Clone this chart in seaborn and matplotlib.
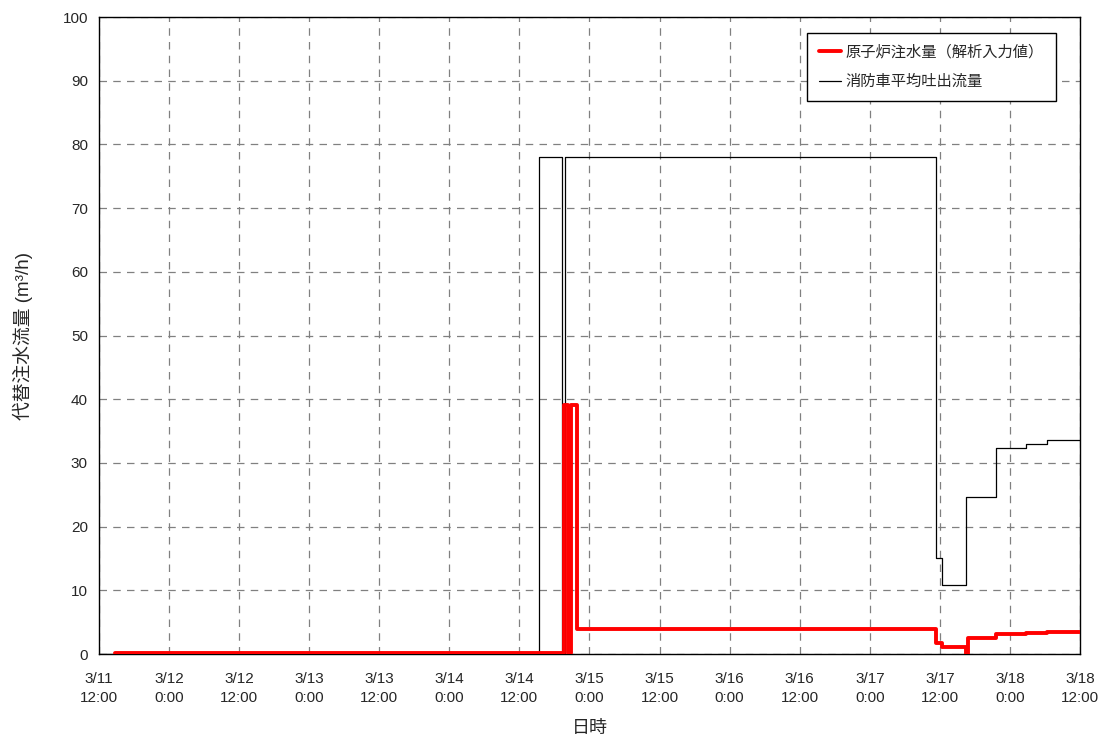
import pandas as pd
import matplotlib
matplotlib.use('Agg')
import matplotlib.pyplot as plt
import seaborn as sns

sns.set_theme(style="white")
plt.rcParams['font.family'] = ['Liberation Sans', 'Noto Sans CJK JP', 'DejaVu Sans']

# 原子炉注水量 (解析入力値)
t_ro = ['2011-03-11 14:46', '2011-03-14 19:38', '2011-03-14 20:14', '2011-03-14 20:50',
        '2011-03-14 21:56', '2011-03-17 11:20', '2011-03-17 12:19', '2011-03-17 16:25',
        '2011-03-17 16:46', '2011-03-17 21:37', '2011-03-18 02:42', '2011-03-18 06:24',
        '2011-03-18 12:00']
v_ro = [0.1, 39.1, 0.1, 39.1, 3.9, 1.7, 1.1, 0.0, 2.5, 3.2, 3.3, 3.4, 3.4]

# 消防車平均吐出流量
t_fire = ['2011-03-11 12:00', '2011-03-14 15:24', '2011-03-14 19:14', '2011-03-14 19:48',
          '2011-03-17 11:20', '2011-03-17 12:19', '2011-03-17 16:25', '2011-03-17 21:37',
          '2011-03-18 02:42', '2011-03-18 06:24', '2011-03-18 12:00']
v_fire = [0.0, 78.0, 0.0, 78.0, 15.1, 10.9, 24.6, 32.4, 33.0, 33.6, 33.6]

lbl_ro = '原子炉注水量（解析入力値）'
lbl_fire = '消防車平均吐出流量'

ticks = pd.date_range('2011-03-11 12:00', '2011-03-18 12:00', freq='12h')
tick_labels = [f"{t.month}/{t.day}\n{t.hour}:{t.minute:02d}" for t in ticks]

d_ro = pd.DataFrame({'t': pd.to_datetime(t_ro), 'v': v_ro})
d_fire = pd.DataFrame({'t': pd.to_datetime(t_fire), 'v': v_fire})

fig = plt.figure(figsize=(11.06, 7.4), dpi=100)
ax = fig.add_axes([0.0895, 0.1162, 0.887, 0.8608])

sns.lineplot(data=d_fire, x='t', y='v', ax=ax, color='black', linewidth=0.9,
             drawstyle='steps-post', estimator=None, sort=False, label=lbl_fire, zorder=3)
sns.lineplot(data=d_ro, x='t', y='v', ax=ax, color='#ff0000', linewidth=2.8,
             drawstyle='steps-post', estimator=None, sort=False, label=lbl_ro, zorder=4)

ax.set_xlim(ticks[0], ticks[-1])
ax.set_ylim(0, 100)
ax.set_xticks(ticks)
ax.set_xticklabels(tick_labels, linespacing=1.45)
ax.set_yticks(range(0, 101, 10))
ax.tick_params(labelsize=11, length=0)
ax.tick_params(axis='x', pad=13)
ax.tick_params(axis='y', pad=8)
ax.grid(True, color='#808080', linestyle=(0, (6, 5)), linewidth=0.9)
for s in ax.spines.values():
    s.set_color('black')
    s.set_linewidth(1.0)

ax.set_xlabel('日時', fontsize=13, labelpad=11)
ax.set_ylabel('代替注水流量 (m³/h)', fontsize=13.5, labelpad=21)

h, l = ax.get_legend_handles_labels()
leg = ax.legend(h[::-1], l[::-1], loc='upper right', bbox_to_anchor=(0.9755, 0.975),
                borderaxespad=0, fontsize=11, frameon=True, fancybox=False, framealpha=1,
                edgecolor='black', handlelength=1.45, handletextpad=0.3,
                borderpad=0.8, labelspacing=1.0)
leg.get_frame().set_linewidth(1.0)

fig.savefig('out.png', dpi=100)
